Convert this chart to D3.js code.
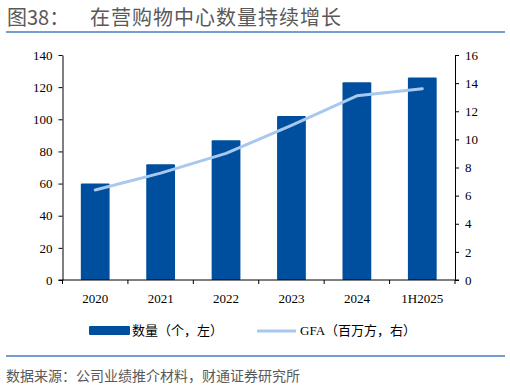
<!DOCTYPE html>
<html>
<head>
<meta charset="utf-8">
<script src="https://cdn.jsdelivr.net/npm/d3@7"></script>
<style>
	body { margin: 0; background: #fff; }
	svg { display: block; }
	.cjk { font-family: "Noto Sans CJK SC", "Noto Sans", sans-serif; }
	.num { font-family: "Liberation Serif", "Times New Roman", serif; }
</style>
</head>
<body>
<svg width="510" height="387"></svg>
<script>
'use strict';

const categories = ["2020", "2021", "2022", "2023", "2024", "1H2025"];
const mallCount = [60, 72, 87, 102, 123, 126];
const gfa = [6.4, 7.6, 9.0, 11.0, 13.1, 13.6];
const leftTicks = [0, 20, 40, 60, 80, 100, 120, 140];
const rightTicks = [0, 2, 4, 6, 8, 10, 12, 14, 16];

const barColor = "#004f9f";
const lineColor = "#a8c8ee";
const textColor = "#595959";

const svg = d3.select("svg");

// title + rules
svg.append("text").attr("class", "cjk")
	.attr("x", 7).attr("y", 25)
	.attr("font-size", 20).attr("fill", textColor)
	.text("图38：");
svg.append("text").attr("class", "cjk")
	.attr("x", 90).attr("y", 25)
	.attr("font-size", 20).attr("fill", textColor)
	.attr("letter-spacing", 1)
	.text("在营购物中心数量持续增长");
svg.append("line")
	.attr("x1", 6).attr("x2", 505).attr("y1", 32).attr("y2", 32)
	.attr("stroke", "#4a7cc0").attr("stroke-width", 1.5);
svg.append("line")
	.attr("x1", 6).attr("x2", 505).attr("y1", 356).attr("y2", 356)
	.attr("stroke", "#4a7cc0").attr("stroke-width", 1.5);
svg.append("text").attr("class", "cjk")
	.attr("x", 6).attr("y", 381)
	.attr("font-size", 14).attr("fill", textColor)
	.text("数据来源：公司业绩推介材料，财通证券研究所");

// scales
const plotL = 62.5, plotR = 455, plotT = 55, plotB = 280;
const x = d3.scaleBand().domain(categories).range([plotL, plotR]).paddingInner(0).paddingOuter(0);
const yL = d3.scaleLinear().domain([0, 140]).range([plotB, plotT]);
const yR = d3.scaleLinear().domain([0, 16]).range([plotB, plotT]);
const barW = x.bandwidth() * 0.44;

// bars
svg.append("g").selectAll("rect")
	.data(categories)
	.enter().append("rect")
	.attr("x", d => x(d) + (x.bandwidth() - barW) / 2)
	.attr("y", (d, i) => yL(mallCount[i]))
	.attr("width", barW)
	.attr("height", (d, i) => plotB - yL(mallCount[i]))
	.attr("rx", 1)
	.attr("fill", barColor);

// line
const line = d3.line()
	.x((d, i) => x(categories[i]) + x.bandwidth() / 2)
	.y(d => yR(d));
svg.append("path")
	.datum(gfa)
	.attr("d", line)
	.attr("fill", "none")
	.attr("stroke", lineColor)
	.attr("stroke-width", 3)
	.attr("stroke-linecap", "round")
	.attr("stroke-linejoin", "round");

// axes
function styleAxis(g) {
	g.selectAll("path, line").attr("stroke", "#000").attr("stroke-width", 1);
	g.selectAll("text").attr("class", "num").attr("font-size", 13).attr("fill", "#000");
}

svg.append("g")
	.attr("transform", `translate(${plotL},0)`)
	.call(d3.axisLeft(yL).tickValues(leftTicks).tickSize(4).tickSizeOuter(0).tickPadding(6))
	.call(styleAxis);

svg.append("g")
	.attr("transform", `translate(${plotR},0)`)
	.call(d3.axisRight(yR).tickValues(rightTicks).tickSize(4).tickSizeOuter(0).tickPadding(6))
	.call(styleAxis);

// x axis: line with ticks at band edges
const xg = svg.append("g").attr("transform", `translate(0,${plotB})`);
xg.append("line")
	.attr("x1", plotL - 4).attr("x2", plotR + 4).attr("y1", 0).attr("y2", 0)
	.attr("stroke", "#000");
xg.selectAll(".edge")
	.data(categories.concat(["end"]))
	.enter().append("line")
	.attr("x1", (d, i) => plotL + i * x.bandwidth())
	.attr("x2", (d, i) => plotL + i * x.bandwidth())
	.attr("y1", 0).attr("y2", 4)
	.attr("stroke", "#000");
xg.selectAll("text.lab")
	.data(categories)
	.enter().append("text")
	.attr("class", "num")
	.attr("x", d => x(d) + x.bandwidth() / 2)
	.attr("y", 23)
	.attr("text-anchor", "middle")
	.attr("font-size", 13)
	.text(d => d);

// legend
const lg = svg.append("g");
lg.append("rect")
	.attr("x", 89).attr("y", 326).attr("width", 41).attr("height", 9).attr("rx", 1)
	.attr("fill", barColor);
lg.append("text").attr("class", "cjk")
	.attr("x", 132).attr("y", 335)
	.attr("font-size", 13).attr("fill", "#000")
	.text("数量（个，左）");
lg.append("line")
	.attr("x1", 257).attr("x2", 296).attr("y1", 331).attr("y2", 331)
	.attr("stroke", lineColor).attr("stroke-width", 3);
const gt = lg.append("text")
	.attr("x", 300).attr("y", 335)
	.attr("font-size", 13).attr("fill", "#000");
gt.append("tspan").attr("class", "num").text("GFA");
gt.append("tspan").attr("class", "cjk").text("（百万方，右）");
</script>
</body>
</html>
